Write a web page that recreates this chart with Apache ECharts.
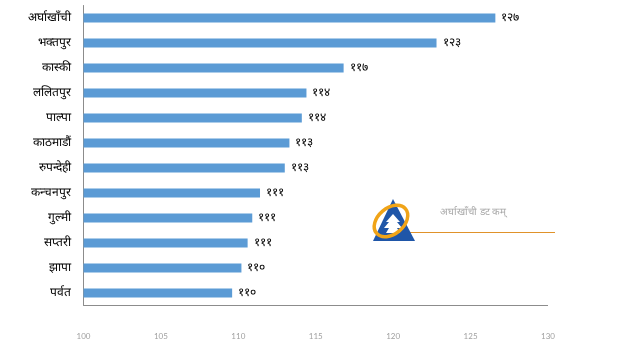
<!DOCTYPE html>
<html><head><meta charset="utf-8">
<script src="https://cdn.jsdelivr.net/npm/echarts@6/dist/echarts.min.js"></script>
<style>html,body{margin:0;padding:0;background:#fff}#c{width:628px;height:358px}</style>
</head><body><div id="c"></div>
<script>
const categories = ['अर्घाखाँची','भक्तपुर','कास्की','ललितपुर','पाल्पा','काठमाडौं','रुपन्देही','कन्चनपुर','गुल्मी','सप्तरी','झापा','पर्वत'];
const values = [126.6, 122.8, 116.8, 114.4, 114.1, 113.3, 113.0, 111.4, 110.9, 110.6, 110.2, 109.6];
const valueLabels = ['१२७','१२३','११७','११४','११४','११३','११३','१११','१११','१११','११०','११०'];
const xTicks = [100, 105, 110, 115, 120, 125, 130];
const watermarkText = 'अर्घाखाँची डट कम्';

const chart = echarts.init(document.getElementById('c'));
chart.setOption({
  animation: false,
  grid: {left: 83.5, right: 80, top: 5.5, bottom: 52.5, containLabel: false},
  xAxis: {
    type: 'value', min: xTicks[0], max: xTicks[xTicks.length-1], interval: 5,
    axisLine: {show: false}, axisTick: {show: false}, splitLine: {show: false},
    axisLabel: {color: '#a0a0a0', fontSize: 8, margin: 27, fontFamily: 'Lato'}
  },
  yAxis: {
    type: 'category', inverse: true, data: categories,
    axisLine: {show: true, lineStyle: {color: '#8c8c8c', width: 1}},
    axisTick: {show: false},
    axisLabel: {color: '#000', fontSize: 12, margin: 13, fontFamily: 'serif'}
  },
  graphic: [
    {type: 'line', shape: {x1: 83.5, y1: 305.5, x2: 548, y2: 305.5}, style: {stroke: '#8c8c8c', lineWidth: 1}, z: 10},
    {type: 'line', shape: {x1: 410, y1: 232.5, x2: 555, y2: 232.5}, style: {stroke: '#e0922a', lineWidth: 1}},
    {type: 'polygon', shape: {points: [[393,199],[373,241],[415,241]]}, style: {fill: '#1f56a8'}},
    {type: 'polygon', shape: {points: [[393,214],[386,222],[389,222],[384,228],[389,228],[386,233],[400,233],[397,228],[402,228],[397,222],[400,222]]}, style: {fill: '#ffffff'}},
    {type: 'ellipse', shape: {cx: 391, cy: 221, rx: 19, ry: 13}, rotation: 0.7, originX: 391, originY: 221, style: {fill: 'none', stroke: '#f0a418', lineWidth: 3.5}},
    {type: 'text', x: 440, y: 212, style: {text: watermarkText, fill: '#a8a8a8', fontSize: 10, verticalAlign: 'middle', fontFamily: 'serif'}}
  ],
  series: [{
    type: 'bar', data: values, barWidth: 9,
    itemStyle: {color: '#5b9bd5'},
    label: {show: true, position: 'right', distance: 6, color: '#000', fontSize: 12, fontFamily: 'serif',
      formatter: p => valueLabels[p.dataIndex]}
  }]
});
</script></body></html>
